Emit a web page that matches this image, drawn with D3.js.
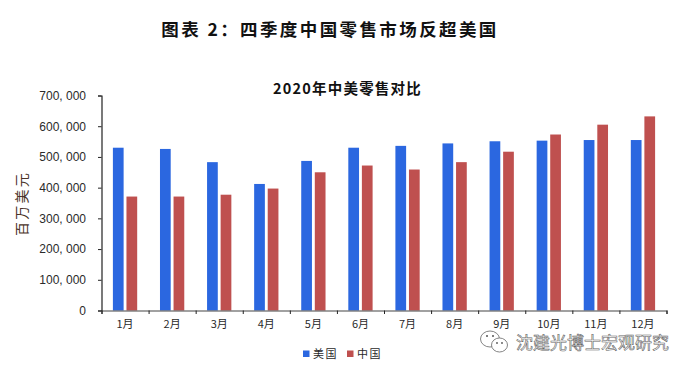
<!DOCTYPE html>
<html>
<head>
<meta charset="utf-8">
<script src="https://cdn.jsdelivr.net/npm/d3@7"></script>
<style>
  html, body { margin: 0; padding: 0; background: #fff; }
  text { font-family: "Noto Sans CJK SC", "Liberation Sans", sans-serif; }
  .num { font-family: "Liberation Sans", "Noto Sans CJK SC", sans-serif; }
</style>
</head>
<body>
<div id="chart-area"></div>
<script>
const months = ["1月", "2月", "3月", "4月", "5月", "6月", "7月", "8月", "9月", "10月", "11月", "12月"]
const seriesNames = ["美国", "中国"]
const usValues = [530000, 526000, 483000, 412000, 487000, 530000, 536000, 544000, 551000, 553000, 555000, 555000]
const chinaValues = [371000, 371000, 377000, 397000, 450000, 472000, 459000, 483000, 517000, 573000, 605000, 632000]
const yTicks = [0, 100000, 200000, 300000, 400000, 500000, 600000, 700000]
const seriesColors = ["#2b67e0", "#bf504f"]

const dimensions = {
    width: 689,
    height: 373,
    margins: { top: 95.5, bottom: 62.5, left: 101.5, right: 22.5 }
}
dimensions.boundedWidth = dimensions.width - dimensions.margins.left - dimensions.margins.right
dimensions.boundedHeight = dimensions.height - dimensions.margins.top - dimensions.margins.bottom

const wrapper = d3.select("#chart-area").append("svg")
    .attr("width", dimensions.width)
    .attr("height", dimensions.height)
    .style("display", "block")

const bounds = wrapper.append("g")
    .attr("transform", `translate(${dimensions.margins.left}, ${dimensions.margins.top})`)

// Scales
const xScale = d3.scaleBand()
    .domain(months)
    .range([0, dimensions.boundedWidth])

const subScale = d3.scaleBand()
    .domain(seriesNames)
    .range([0, xScale.bandwidth()])
    .paddingInner(0.21)
    .paddingOuter(0.84)

const yScale = d3.scaleLinear()
    .domain([0, 700000])
    .range([dimensions.boundedHeight, 0])

// Bars
const seriesValues = [usValues, chinaValues]
seriesNames.forEach((name, i) => {
    bounds.append("g").selectAll("rect")
        .data(seriesValues[i])
        .enter().append("rect")
        .attr("x", (d, j) => xScale(months[j]) + subScale(name))
        .attr("y", d => yScale(d))
        .attr("width", subScale.bandwidth())
        .attr("height", d => dimensions.boundedHeight - yScale(d))
        .attr("fill", seriesColors[i])
})

// Y axis
const yAxis = bounds.append("g")
    .call(d3.axisLeft(yScale)
        .tickValues(yTicks)
        .tickSize(3.5)
        .tickPadding(12)
        .tickFormat(d => d3.format(",")(d).replace(",", ", ")))
yAxis.select(".domain").attr("stroke", "#222").attr("stroke-width", 1.2)
yAxis.selectAll(".tick line").attr("stroke", "#222")
yAxis.selectAll("text")
    .attr("class", "num")
    .attr("font-size", 12)
    .attr("fill", "#2a2a2a")

// X axis: tick marks sit between the months, labels at the centre
const xTickScale = d3.scaleLinear()
    .domain([0, months.length])
    .range([0, dimensions.boundedWidth])

const xTicks = bounds.append("g")
    .attr("transform", `translate(0, ${dimensions.boundedHeight})`)
    .call(d3.axisBottom(xTickScale)
        .ticks(months.length)
        .tickSize(3.5)
        .tickSizeOuter(3.5)
        .tickFormat(""))
xTicks.select(".domain").attr("stroke", "#444").attr("stroke-width", 1.2)
xTicks.selectAll(".tick line").attr("stroke", "#222")

const xLabels = bounds.append("g")
    .attr("transform", `translate(0, ${dimensions.boundedHeight})`)
    .call(d3.axisBottom(xScale).tickSize(0).tickPadding(10))
xLabels.select(".domain").remove()
xLabels.selectAll("text")
    .attr("font-size", 11)
    .attr("fill", "#2a2a2a")

// Titles
wrapper.append("text")
    .attr("x", 330)
    .attr("y", 36)
    .attr("text-anchor", "middle")
    .attr("font-size", 17.5)
    .attr("font-weight", 700)
    .attr("letter-spacing", 2.4)
    .attr("fill", "#111")
    .text("图表 2：四季度中国零售市场反超美国")

wrapper.append("text")
    .attr("x", 347.5)
    .attr("y", 94)
    .attr("text-anchor", "middle")
    .attr("font-size", 14.5)
    .attr("font-weight", 700)
    .attr("letter-spacing", 1.2)
    .attr("fill", "#111")
    .text("2020年中美零售对比")

wrapper.append("text")
    .attr("transform", "translate(27, 203.5) rotate(-90)")
    .attr("text-anchor", "middle")
    .attr("font-size", 14)
    .attr("letter-spacing", 2.2)
    .attr("fill", "#4a3328")
    .text("百万美元")

// Legend
const legend = wrapper.append("g")
    .attr("transform", "translate(303, 349)")
seriesNames.forEach((name, i) => {
    const item = legend.append("g").attr("transform", `translate(${i * 44}, 0)`)
    item.append("rect")
        .attr("y", 1.5)
        .attr("width", 6.5)
        .attr("height", 6.5)
        .attr("fill", seriesColors[i])
    item.append("text")
        .attr("x", 10)
        .attr("y", 9)
        .attr("font-size", 11)
        .attr("letter-spacing", 1.5)
        .attr("fill", "#2a2a2a")
        .text(name)
})

// Watermark
const mark = wrapper.append("g")
    .attr("fill", "#fff")
    .attr("stroke", "#666")
    .attr("stroke-width", 0.8)
mark.append("ellipse").attr("cx", 490).attr("cy", 339).attr("rx", 9.5).attr("ry", 8)
mark.append("ellipse").attr("cx", 499.5).attr("cy", 345).attr("rx", 8).attr("ry", 7)
const eyes = wrapper.append("g").attr("fill", "#555")
eyes.append("circle").attr("cx", 487).attr("cy", 336).attr("r", 1)
eyes.append("circle").attr("cx", 493).attr("cy", 336).attr("r", 1)
eyes.append("circle").attr("cx", 497).attr("cy", 343).attr("r", 0.9)
eyes.append("circle").attr("cx", 502).attr("cy", 343).attr("r", 0.9)

wrapper.append("text")
    .attr("x", 516)
    .attr("y", 349)
    .attr("font-size", 17)
    .attr("fill", "#fff")
    .attr("stroke", "#666")
    .attr("stroke-width", 0.6)
    .text("沈建光博士宏观研究")
</script>
</body>
</html>
